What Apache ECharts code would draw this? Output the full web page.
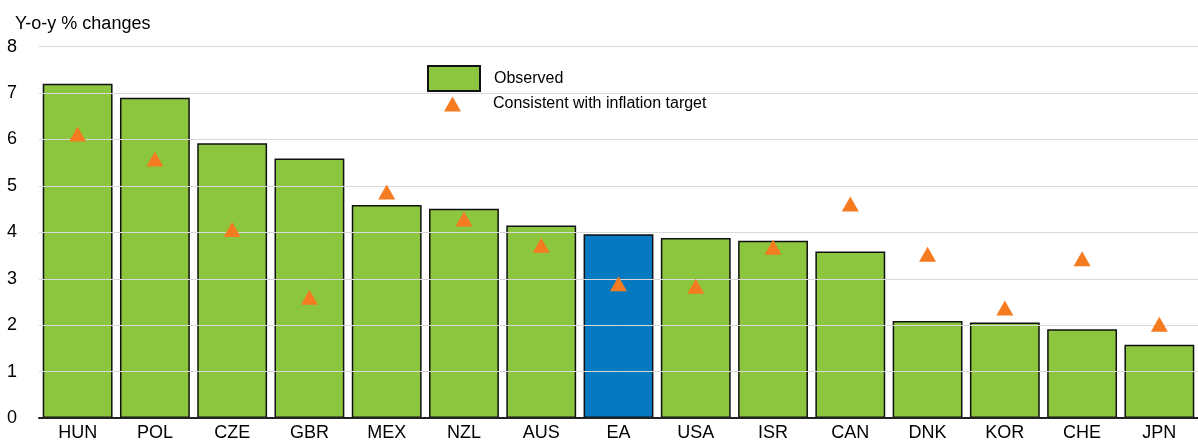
<!DOCTYPE html>
<html>
<head>
<meta charset="utf-8">
<script src="https://cdn.jsdelivr.net/npm/echarts@6/dist/echarts.min.js"></script>
<style>
  html, body { margin: 0; padding: 0; background: #fff; }
  #chart { width: 1198px; height: 442px; }
</style>
</head>
<body>
<div id="chart"></div>
<script>
// categories and values
var countries = ['HUN', 'POL', 'CZE', 'GBR', 'MEX', 'NZL', 'AUS', 'EA', 'USA', 'ISR', 'CAN', 'DNK', 'KOR', 'CHE', 'JPN'];
var observed = [7.20, 6.90, 5.92, 5.59, 4.59, 4.51, 4.15, 3.96, 3.88, 3.82, 3.59, 2.09, 2.06, 1.91, 1.58];
var target = [6.12, 5.58, 4.06, 2.60, 4.87, 4.29, 3.72, 2.89, 2.84, 3.68, 4.61, 3.53, 2.37, 3.43, 2.02];
var yTicks = [0, 1, 2, 3, 4, 5, 6, 7, 8];

var green = '#8cc63f', blue = '#0679c1', orange = '#f47b20';
var font = 'Liberation Sans, Arial, sans-serif';

// EA is highlighted in blue
var barData = countries.map(function (c, i) {
    if (c == 'EA') {
        return {value: observed[i], itemStyle: {color: blue}};
    }
    return observed[i];
});

var option = {
    animation: false,
    grid: {left: 39, right: -3, top: 46.7, bottom: 20},
    legend: [
        {
            data: [{name: 'Observed', icon: 'rect'}],
            left: 427, top: 65, padding: 0,
            itemWidth: 52, itemHeight: 25,
            textStyle: {fontFamily: font, fontSize: 16, color: '#000', padding: [0, 0, 0, 9]}
        },
        {
            data: ['Consistent with inflation target'],
            left: 444, top: 96, padding: 0,
            itemWidth: 17, itemHeight: 15,
            textStyle: {fontFamily: font, fontSize: 16, color: '#000', padding: [3, 0, 0, 27]}
        }
    ],
    xAxis: {
        type: 'category',
        data: countries,
        z: 4,
        axisLine: {lineStyle: {color: '#222', width: 2}},
        axisTick: {show: false},
        axisLabel: {fontFamily: font, fontSize: 18, color: '#000', margin: 6}
    },
    yAxis: {
        type: 'value',
        min: yTicks[0], max: yTicks[yTicks.length - 1], interval: 1,
        z: 3,
        name: 'Y-o-y % changes',
        nameLocation: 'end',
        nameGap: 14,
        nameTextStyle: {fontFamily: font, fontSize: 18, color: '#000', align: 'left', padding: [0, 0, 0, -24]},
        axisLine: {show: false},
        axisTick: {show: false},
        axisLabel: {fontFamily: font, fontSize: 18, color: '#000', margin: 22},
        splitLine: {lineStyle: {color: '#d9d9d9', width: 1}}
    },
    series: [
        {
            name: 'Observed',
            type: 'bar',
            data: barData,
            barCategoryGap: '9.6%',
            z: 2,
            itemStyle: {color: green, borderColor: '#111', borderWidth: 1.5}
        },
        {
            name: 'Consistent with inflation target',
            type: 'scatter',
            data: target,
            symbol: 'triangle',
            symbolSize: [17, 15],
            z: 5,
            itemStyle: {color: orange, opacity: 1}
        }
    ]
};

var myChart = echarts.init(document.getElementById('chart'));
myChart.setOption(option);
</script>
</body>
</html>
